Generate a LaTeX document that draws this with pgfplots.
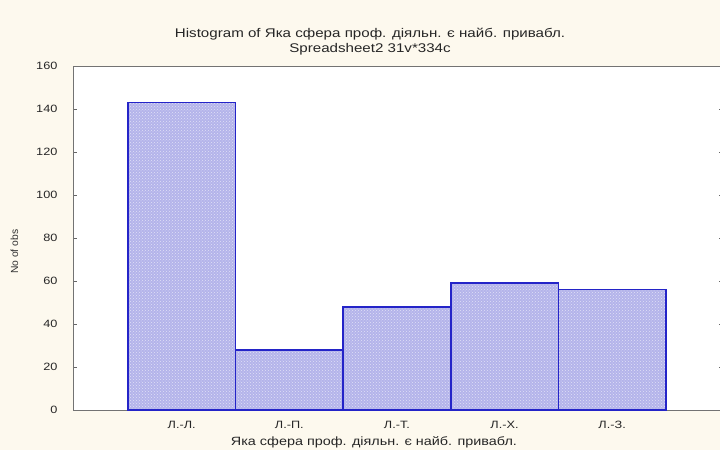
\documentclass[border=0pt]{standalone}
\usepackage{fontspec}
\setmainfont[FakeStretch=1.2]{Liberation Sans}
\newfontfamily\plainsans{Liberation Sans}
\usepackage{pgfplots}
\pgfplotsset{compat=1.18}
\usetikzlibrary{patterns}
\definecolor{cream}{RGB}{253,249,238}
\definecolor{barfill}{RGB}{180,180,234}
\definecolor{baredge}{RGB}{36,36,200}
\begin{document}
\begin{tikzpicture}[x=1pt,y=1pt]
\path[use as bounding box, clip] (0,0) rectangle (720,450);
\fill[cream] (0,0) rectangle (720,450);
\begin{axis}[
  at={(73pt,40pt)}, anchor=south west,
  scale only axis, width=650pt, height=344pt,
  xmin=-1.01, xmax=5.03, ymin=0, ymax=160,
  ytick={0,20,...,160},
  xtick={0,1,2,3,4},
  xticklabels={Л.-Л.,Л.-П.,Л.-Т.,Л.-Х.,Л.-З.},
  major x tick style={draw=none},
  tick align=inside, ytick pos=both,
  major tick length=4pt,
  axis background/.style={fill=white},
  axis line style={draw=black!55, line width=0.9pt},
  tick style={black!60},
  yticklabel style={xshift=-12pt},
  xticklabel style={yshift=-4pt},
  every tick label/.append style={font=\fontsize{10.6}{13}\selectfont, text=black!85},
  /pgf/number format/assume math mode=true,
  ylabel={No of obs}, ylabel style={font=\plainsans\fontsize{10.3}{12}\selectfont, text=black!80, at={(axis description cs:-0.079,0.46)}},
  xlabel={Яка сфера проф. діяльн. є найб. привабл.},
  xlabel style={font=\fontsize{12}{14}\selectfont, text=black!85, at={(axis description cs:0.463,-0.075)}, anchor=north, inner sep=1pt},
  title={Histogram of Яка сфера проф. діяльн. є найб. привабл.\\Spreadsheet2 31v*334c},
  title style={font=\fontsize{12.6}{15}\selectfont, align=center, text=black!85, at={(axis description cs:0.457,1.005)}, anchor=south},
  ybar, bar width=1, bar shift=0pt,
  clip=false,
]
\addplot[draw=baredge, line width=1.6pt, fill=barfill, postaction={pattern=crosshatch dots, pattern color=white!60!barfill}] coordinates {(0,143) (1,28) (2,48) (3,59) (4,56)};
\end{axis}
\end{tikzpicture}
\end{document}
